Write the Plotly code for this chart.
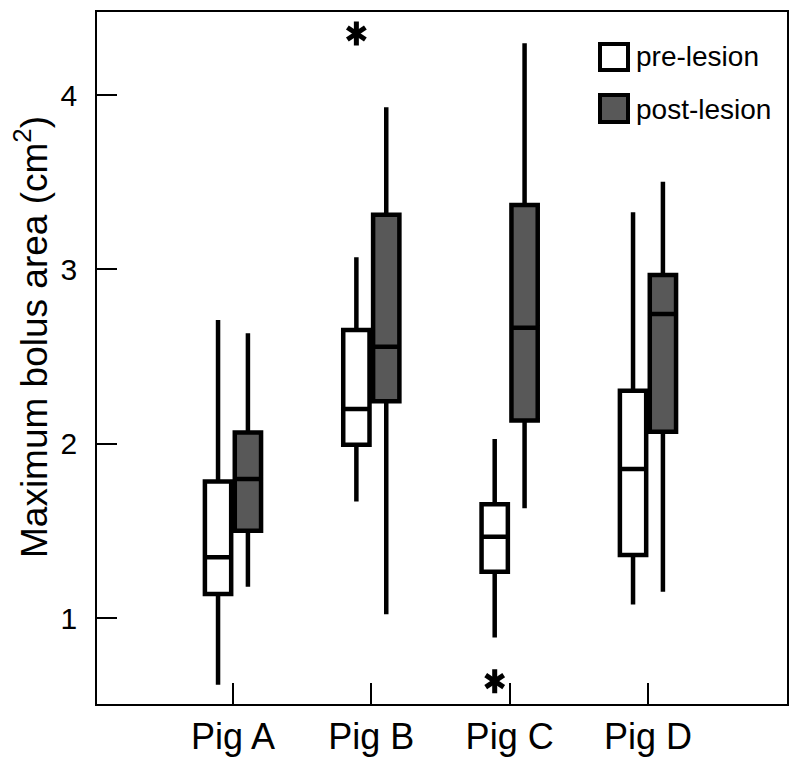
import plotly.graph_objects as go

# ---- data ----
pigs = ["Pig A", "Pig B", "Pig C", "Pig D"]

pre_low = [0.62, 1.67, 0.89, 1.08]
pre_q1 = [1.14, 1.995, 1.267, 1.363]
pre_med = [1.35, 2.20, 1.468, 1.856]
pre_q3 = [1.785, 2.653, 1.654, 2.305]
pre_high = [2.711, 3.07, 2.028, 3.328]

post_low = [1.181, 1.023, 1.631, 1.153]
post_q1 = [1.502, 2.245, 2.134, 2.07]
post_med = [1.799, 2.557, 2.666, 2.745]
post_q3 = [2.066, 3.313, 3.37, 2.968]
post_high = [2.634, 3.93, 4.297, 3.503]

outlier_pig = [1, 2]          # pre-lesion outliers
outlier_val = [4.353, 0.64]

yticks = [1, 2, 3, 4]
ytitle = "Maximum bolus area (cm<sup>2</sup>)"

# ---- style ----
FONT = "Liberation Sans, Arial, Helvetica, sans-serif"
OFF = 0.108
BW = 0.19
DARK = "#585858"
PAGE = 8  # browser body margin offset

fig = go.Figure()

fig.add_trace(go.Box(
    x=[i - OFF for i in range(len(pigs))],
    q1=pre_q1, median=pre_med, q3=pre_q3,
    lowerfence=pre_low, upperfence=pre_high,
    width=BW, whiskerwidth=0, boxpoints=False,
    fillcolor="white", line=dict(color="black", width=4.5),
    name="pre-lesion", showlegend=False,
))
fig.add_trace(go.Box(
    x=[i + OFF for i in range(len(pigs))],
    q1=post_q1, median=post_med, q3=post_q3,
    lowerfence=post_low, upperfence=post_high,
    width=BW, whiskerwidth=0, boxpoints=False,
    fillcolor=DARK, line=dict(color="black", width=4.5),
    name="post-lesion", showlegend=False,
))

# outliers as six-armed asterisks (two overlaid Y symbols)
for sym in ["y-up-open", "y-down-open"]:
    fig.add_trace(go.Scatter(
        x=[p - OFF for p in outlier_pig], y=outlier_val,
        mode="markers",
        marker=dict(symbol=sym, size=15, color="black",
                    line=dict(color="black", width=5)),
        showlegend=False, hoverinfo="skip",
    ))

# ---- manual legend (paper coords from target pixel positions) ----
L, R, T, B = 97, 787, 12, 704
def px(x):
    return (x - L) / (R - L)
def py(y):
    return (B - y) / (B - T)

shapes = []
annotations = []
for (y0, y1, fill, label, ty) in [(44, 70, "white", "pre-lesion", 57),
                                   (95, 122, DARK, "post-lesion", 109)]:
    shapes.append(dict(type="rect", xref="paper", yref="paper",
                       x0=px(600), x1=px(628), y0=py(y1), y1=py(y0),
                       fillcolor=fill, line=dict(color="black", width=4)))
    annotations.append(dict(xref="paper", yref="paper", x=px(634), y=py(ty),
                            xanchor="left", yanchor="middle", showarrow=False,
                            text=label, font=dict(family=FONT, size=28, color="black")))

# y-axis title
annotations.append(dict(xref="paper", yref="paper", x=px(31), y=py(337),
                        xanchor="center", yanchor="middle", textangle=-90,
                        showarrow=False, text=ytitle,
                        font=dict(family=FONT, size=37, color="black")))

W, H = 800 - PAGE, 766 - PAGE
fig.update_layout(
    width=W, height=H,
    margin=dict(l=L - PAGE, r=W - (R - PAGE), t=T - PAGE, b=H - (B - PAGE),
                autoexpand=False),
    paper_bgcolor="white", plot_bgcolor="white",
    shapes=shapes, annotations=annotations,
    font=dict(family=FONT, color="black"),
    showlegend=False,
)
fig.update_xaxes(
    range=[-0.983, 4.005], automargin=False,
    tickmode="array", tickvals=list(range(len(pigs))), ticktext=pigs,
    ticks="inside", ticklen=21, tickwidth=1.5, tickcolor="black",
    showline=True, linewidth=1.8, linecolor="black", mirror=True,
    showgrid=False, zeroline=False,
    tickfont=dict(family=FONT, size=36, color="black"),
    ticklabelstandoff=0,
)
fig.update_yaxes(
    range=[0.509, 4.476], automargin=False,
    tickmode="array", tickvals=yticks, ticktext=[str(v) for v in yticks],
    ticks="inside", ticklen=20, tickwidth=1.5, tickcolor="black",
    showline=True, linewidth=1.8, linecolor="black", mirror=True,
    showgrid=False, zeroline=False,
    tickfont=dict(family=FONT, size=30, color="black"),
    ticklabelstandoff=12,
)

fig.write_html("out.html")
